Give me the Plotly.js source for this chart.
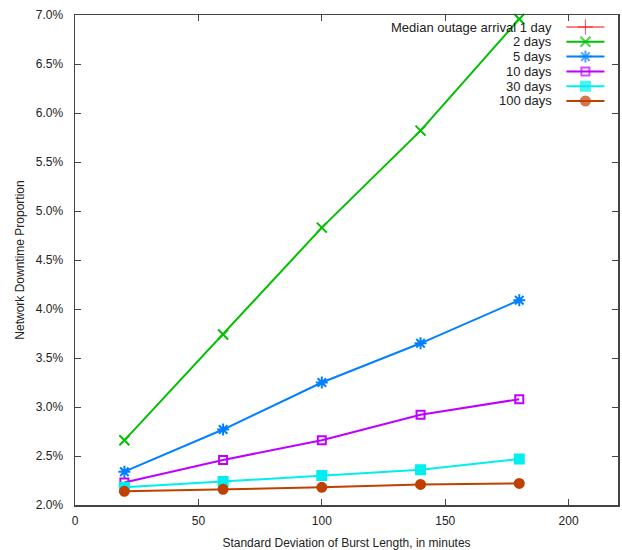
<!DOCTYPE html>
<html>
<head>
<meta charset="utf-8">
<script src="https://cdn.plot.ly/plotly-3.0.1.min.js"></script>
<style>
  html, body { margin: 0; padding: 0; background: #fff; }
  #chart { width: 622px; height: 550px; }
</style>
</head>
<body>
<div id="chart"></div>
<script>
// Standard deviation of burst length (minutes)
const burstStdDev = [20, 60, 100, 140, 180];

// Network downtime proportion for each median outage arrival interval
const seriesNames = ['Median outage arrival 1 day', '2 days', '5 days', '10 days', '30 days', '100 days'];
const days1 = [null, null, null, null, null];
const days2 = [0.0266, 0.0374, 0.0483, 0.0582, 0.0696];
const days5 = [0.0234, 0.0277, 0.0325, 0.0365, 0.0409];
const days10 = [0.0223, 0.0246, 0.0266, 0.0292, 0.0308];
const days30 = [0.0218, 0.0224, 0.0230, 0.0236, 0.0247];
const days100 = [0.0214, 0.0216, 0.0218, 0.0221, 0.0222];

const yTickVals = [0.020, 0.025, 0.030, 0.035, 0.040, 0.045, 0.050, 0.055, 0.060, 0.065, 0.070];
const xTickVals = [0, 50, 100, 150, 200];

const FONT = 'Liberation Sans, Arial, sans-serif';

// gnuplot-style colours and point types
const styles = [
  { color: '#ff0000', symbol: 'cross-thin-open', size: 11, width: 1 },
  { color: '#00c000', symbol: 'x-thin-open', size: 10, width: 2 },
  { color: '#0080ff', symbol: 'asterisk-open', size: 10, width: 2 },
  { color: '#c000ff', symbol: 'square-open', size: 8, width: 2 },
  { color: '#00eeee', symbol: 'square', size: 9, width: 2 },
  { color: '#c04000', symbol: 'circle', size: 9, width: 2 }
];
const allSeries = [days1, days2, days5, days10, days30, days100];

const traces = allSeries.map((ys, i) => ({
  type: 'scatter',
  mode: 'lines+markers',
  x: burstStdDev,
  y: ys,
  name: seriesNames[i],
  showlegend: false,
  cliponaxis: false,
  line: { color: styles[i].color, width: styles[i].width },
  marker: {
    color: styles[i].color,
    symbol: styles[i].symbol,
    size: styles[i].size,
    line: { color: styles[i].color, width: styles[i].width }
  }
}));

// Key drawn gnuplot-style: right-aligned text, then a line sample with its point
const keyTop = 0.9755;
const keyStep = 0.0302;
const annotations = [];
seriesNames.forEach((name, i) => {
  const ky = keyTop - i * keyStep;
  traces.push({
    type: 'scatter',
    mode: 'lines+markers',
    xaxis: 'x2',
    yaxis: 'y2',
    x: [0.905, 0.94, 0.975],
    y: [ky, ky, ky],
    showlegend: false,
    hoverinfo: 'skip',
    cliponaxis: false,
    line: { color: styles[i].color, width: styles[i].width },
    marker: {
      color: styles[i].color,
      symbol: styles[i].symbol,
      size: [0, styles[i].size, 0],
      line: { color: styles[i].color, width: styles[i].width }
    }
  });
  annotations.push({
    xref: 'paper', yref: 'paper',
    x: 0.883, y: ky,
    xanchor: 'right', yanchor: 'middle',
    text: name,
    showarrow: false,
    font: { family: FONT, size: 13, color: '#222' }
  });
});

const axisCommon = {
  showgrid: false,
  zeroline: false,
  showline: true,
  linecolor: '#444',
  linewidth: 1.5,
  mirror: 'ticks',
  ticks: 'inside',
  ticklen: 6,
  tickcolor: '#444',
  tickfont: { family: FONT, size: 12, color: '#222' }
};

const layout = {
  width: 622,
  height: 550,
  margin: { l: 75, r: 4, t: 15, b: 45 },
  paper_bgcolor: '#fff',
  plot_bgcolor: '#fff',
  showlegend: false,
  xaxis: Object.assign({}, axisCommon, {
    range: [0, 220],
    tickvals: xTickVals,
    ticklabelstandoff: 4,
    title: { text: 'Standard Deviation of Burst Length, in minutes', standoff: 12,
             font: { family: FONT, size: 12, color: '#222' } }
  }),
  yaxis: Object.assign({}, axisCommon, {
    range: [0.02, 0.07],
    tickvals: yTickVals,
    tickformat: '.1%',
    ticklabelstandoff: 8,
    title: { text: 'Network Downtime Proportion', standoff: 8,
             font: { family: FONT, size: 12, color: '#222' } }
  }),
  xaxis2: { overlaying: 'x', range: [0, 1], visible: false, anchor: 'y2' },
  yaxis2: { overlaying: 'y', range: [0, 1], visible: false, anchor: 'x2' },
  annotations: annotations
};

Plotly.newPlot('chart', traces, layout, { staticPlot: true, displayModeBar: false });
</script>
</body>
</html>
